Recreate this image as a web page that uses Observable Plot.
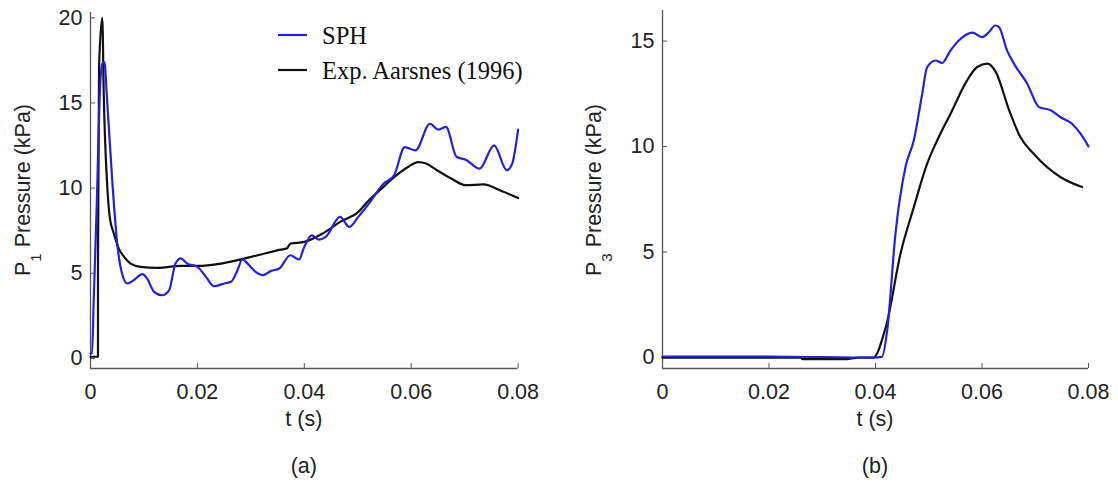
<!DOCTYPE html>
<html><head><meta charset="utf-8">
<script src="https://cdn.jsdelivr.net/npm/d3@7"></script>
<script src="https://cdn.jsdelivr.net/npm/@observablehq/plot@0.6"></script>
<style>
body{margin:0;background:#fff;}
#fig{position:relative;width:1118px;height:491px;overflow:hidden;background:#fff;}
.panel{position:absolute;top:0;}
</style></head>
<body><div id="fig"></div>
<script>
// ---- data ----
const seriesNames = ["SPH", "Exp. Aarsnes (1996)"];
const xTicks = [0, 0.02, 0.04, 0.06, 0.08];
const yTicksA = [0, 5, 10, 15, 20];
const yTicksB = [0, 5, 10, 15];

// (a) P1
const sphA_t = [0, 0.0003, 0.0006, 0.0012, 0.0017, 0.0022, 0.0026, 0.0031, 0.0041, 0.005, 0.0059, 0.0069, 0.0081, 0.0097, 0.0106, 0.0119, 0.0134, 0.0147, 0.0159, 0.0169, 0.0181, 0.02, 0.0216, 0.0231, 0.025, 0.0263, 0.0275, 0.0284, 0.0294, 0.0309, 0.0322, 0.0338, 0.0353, 0.0374, 0.039, 0.040, 0.0414, 0.0427, 0.044, 0.0467, 0.0484, 0.0501, 0.0521, 0.0548, 0.0568, 0.0588, 0.0608, 0.0635, 0.0651, 0.0665, 0.0685, 0.0702, 0.0728, 0.0755, 0.0779, 0.0789, 0.08];
const sphA_p = [0.3, 0.3, 3.4, 9.3, 15.2, 17.3, 17.4, 15.2, 10.3, 6.74, 4.99, 4.4, 4.6, 4.95, 4.69, 3.91, 3.71, 4.0, 5.57, 5.87, 5.57, 5.38, 4.79, 4.24, 4.4, 4.5, 5.18, 5.81, 5.57, 5.08, 4.89, 5.14, 5.28, 6.06, 5.81, 6.55, 7.23, 6.98, 7.14, 8.31, 7.72, 8.31, 9.09, 10.26, 10.75, 12.41, 12.22, 13.78, 13.43, 13.59, 11.83, 11.67, 11.14, 12.51, 11.05, 11.44, 13.43];
const expA_t = [0, 0.0014, 0.0014, 0.0016, 0.0022, 0.0025, 0.0031, 0.0036, 0.0044, 0.0053, 0.0063, 0.0075, 0.0094, 0.0125, 0.0169, 0.02, 0.0244, 0.0275, 0.0313, 0.0356, 0.0367, 0.0374, 0.040, 0.0434, 0.0467, 0.0501, 0.0521, 0.0548, 0.0568, 0.0594, 0.0613, 0.0628, 0.0648, 0.0675, 0.0702, 0.0735, 0.0769, 0.08];
const expA_p = [0.1, 0.1, 5.6, 17.1, 20.0, 15.2, 10.3, 8.3, 7.3, 6.45, 5.96, 5.57, 5.38, 5.32, 5.43, 5.43, 5.57, 5.77, 6.06, 6.39, 6.45, 6.74, 6.84, 7.33, 8.02, 8.6, 9.29, 10.07, 10.65, 11.24, 11.53, 11.44, 11.05, 10.56, 10.17, 10.22, 9.83, 9.42];

// (b) P3
const sphB_t = [0, 0.02, 0.0396, 0.0412, 0.0422, 0.04375, 0.04563, 0.0472, 0.04877, 0.0497, 0.0513, 0.0525, 0.0541, 0.056, 0.0582, 0.06, 0.0613, 0.0625, 0.0632, 0.0647, 0.066, 0.0685, 0.0707, 0.0729, 0.0747, 0.0769, 0.0785, 0.08];
const sphB_p = [0.05, 0.05, 0, 0.03, 1.29, 5.87, 9.03, 10.3, 12.5, 13.77, 14.08, 13.96, 14.56, 15.11, 15.4, 15.19, 15.42, 15.74, 15.66, 14.56, 13.93, 12.98, 11.87, 11.72, 11.4, 11.08, 10.61, 10.01];
const expB_t = [0, 0.026, 0.0263, 0.034, 0.037, 0.0396, 0.0406, 0.0413, 0.0421, 0.0447, 0.0472, 0.0497, 0.0516, 0.0541, 0.0572, 0.0591, 0.061, 0.0626, 0.0651, 0.0672, 0.0697, 0.0722, 0.0747, 0.0788];
const expB_p = [0, 0, -0.08, -0.08, 0, 0, 0.36, 0.91, 1.6, 4.93, 7.13, 9.19, 10.3, 11.56, 13.14, 13.77, 13.93, 13.53, 11.72, 10.45, 9.66, 9.03, 8.56, 8.08];

// ---- drawing ----
const SANS = "'Liberation Sans', Arial, sans-serif";
const SERIF = "'Liberation Serif', 'Times New Roman', serif";
const BLUE = "#2222d8", BLACK = "#111111", AXIS = "#555555";

function panel(o) {
  const sph = o.sphT.map((t, i) => ({t, p: o.sphP[i]}));
  const exp = o.expT.map((t, i) => ({t, p: o.expP[i]}));
  const svg = Plot.plot({
    width: 559, height: 491,
    marginLeft: o.marginLeft, marginRight: o.marginRight, marginTop: o.marginTop, marginBottom: 123,
    style: {fontFamily: SANS, fontSize: "21.5px", color: "#222", background: "transparent", overflow: "visible"},
    x: {domain: [0, 0.08]},
    y: {domain: o.yDomain},
    marks: [
      Plot.ruleX([0], {stroke: AXIS, strokeWidth: 1.3}),
      Plot.ruleY([o.yDomain[0]], {stroke: AXIS, strokeWidth: 1.3}),
      Plot.axisX({ticks: xTicks, tickFormat: d => String(d), tickSize: -5, tickPadding: 20, stroke: AXIS, fill: "#222", label: null}),
      Plot.axisY({ticks: o.yTicks, tickFormat: d => String(d), tickSize: -5, tickPadding: 13, stroke: AXIS, fill: "#222", label: null}),
      Plot.line(exp, {x: "t", y: "p", stroke: BLACK, strokeWidth: 2.2, curve: "monotone-x"}),
      Plot.line(sph, {x: "t", y: "p", stroke: BLUE, strokeWidth: 2.2, curve: "monotone-x"})
    ]
  });
  const s = d3.select(svg);
  const cx = (o.marginLeft + (559 - o.marginRight)) / 2;
  s.append("text").attr("x", cx).attr("y", 426).attr("text-anchor", "middle")
    .attr("font-family", SANS).attr("font-size", 21.5).attr("fill", "#222").text("t (s)");
  s.append("text").attr("x", cx).attr("y", 473).attr("text-anchor", "middle")
    .attr("font-family", SANS).attr("font-size", 21.5).attr("fill", "#222").text(o.caption);
  const yl = s.append("text").attr("transform", `translate(${o.marginLeft - o.labelGap},190) rotate(-90)`)
    .attr("text-anchor", "middle").attr("font-family", SANS).attr("font-size", 21.5).attr("fill", "#222");
  yl.append("tspan").text("P");
  yl.append("tspan").attr("font-size", 15).attr("dy", 11).text(o.sub);
  yl.append("tspan").attr("dy", -11).text(" Pressure (kPa)");
  if (o.legend) {
    const lg = s.append("g");
    const items = [[seriesNames[0], BLUE, 35], [seriesNames[1], BLACK, 70]];
    for (const [name, color, y] of items) {
      lg.append("line").attr("x1", 278).attr("x2", 307).attr("y1", y).attr("y2", y)
        .attr("stroke", color).attr("stroke-width", 2.2);
      lg.append("text").attr("x", 322).attr("y", y + 8.5).attr("text-anchor", "start").attr("font-family", SERIF)
        .attr("font-size", 24.5).attr("fill", "#111").text(name);
    }
  }
  return svg;
}

const fig = document.getElementById("fig");
const a = panel({sphT: sphA_t, sphP: sphA_p, expT: expA_t, expP: expA_p, yDomain: [-0.59, 20.31], yTicks: yTicksA,
  marginLeft: 90, marginRight: 41.4, marginTop: 12, sub: "1", caption: "(a)", legend: true, labelGap: 60});
const b = panel({sphT: sphB_t, sphP: sphB_p, expT: expB_t, expP: expB_p, yDomain: [-0.52, 16.45], yTicks: yTicksB,
  marginLeft: 103, marginRight: 30, marginTop: 10, sub: "3", caption: "(b)", legend: false, labelGap: 61});
a.classList.add("panel"); a.style.left = "0px";
b.classList.add("panel"); b.style.left = "559px";
fig.append(a, b);
</script>
</body></html>
